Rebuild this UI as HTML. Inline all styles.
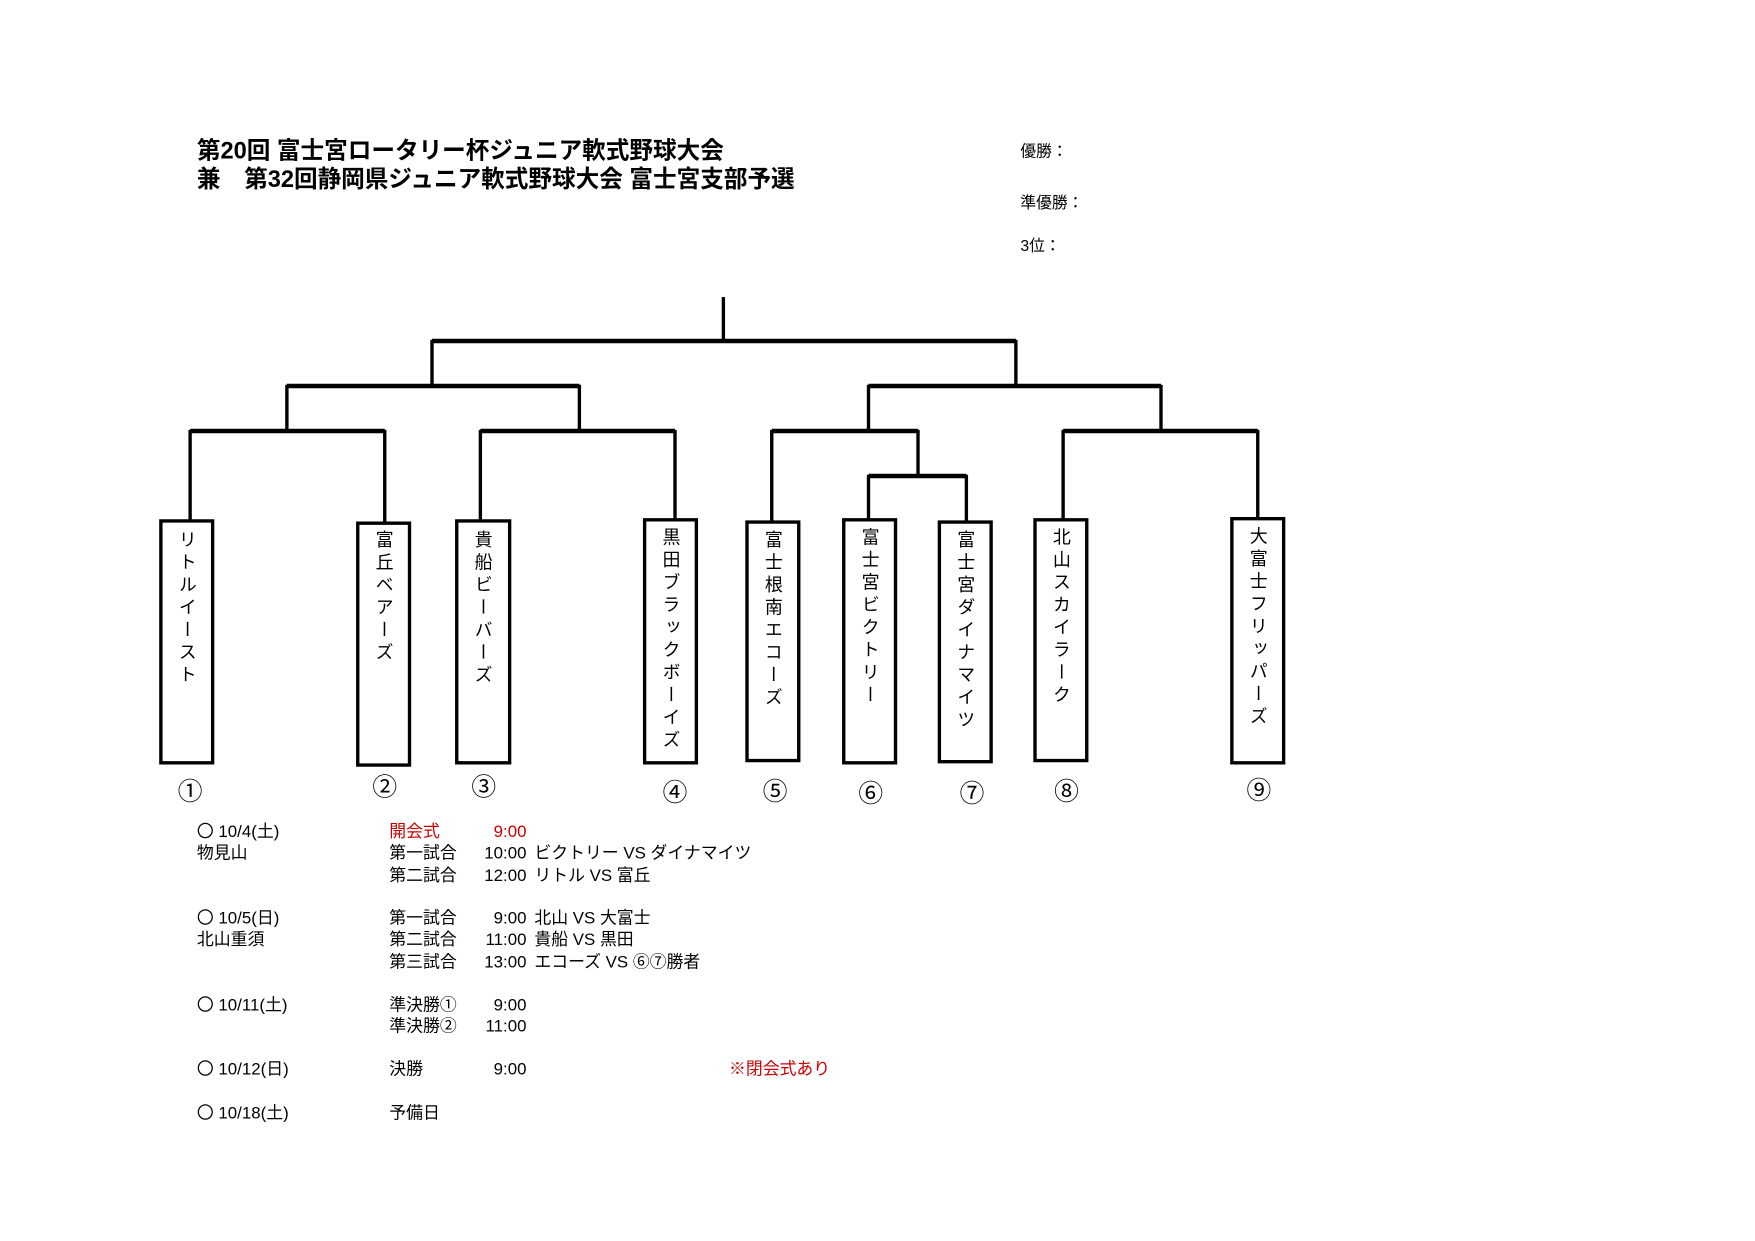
<!DOCTYPE html>
<html><head><meta charset="utf-8"><style>
html,body{margin:0;padding:0;background:#fff;}
svg{display:block;}
text{font-family:"Liberation Sans","Noto Sans CJK JP",sans-serif;fill:#000;}
.v{writing-mode:vertical-rl;font-size:16px;letter-spacing:4px;}
.n{font-size:22px;text-anchor:middle;}
.s{font-size:15px;}
.r{fill:#c00;}
</style></head><body>
<svg width="1755" height="1241" viewBox="0 0 1560 1103" xmlns="http://www.w3.org/2000/svg">
<text x="175" y="141" font-size="21" font-weight="bold">第20回 富士宮ロータリー杯ジュニア軟式野球大会</text>
<text x="175" y="166" font-size="21" font-weight="bold">兼　第32回静岡県ジュニア軟式野球大会 富士宮支部予選</text>
<text x="907" y="139" font-size="14">優勝：</text>
<text x="907" y="185" font-size="14">準優勝：</text>
<text x="907" y="223" font-size="14">3位：</text>
<g transform="translate(-1,-1)">
<g stroke="#000" fill="none" stroke-width="3">
<line x1="644" y1="265" x2="644" y2="303"/>
<line x1="385" y1="304" x2="904" y2="304" stroke-width="4"/>
<line x1="385" y1="303" x2="385" y2="343"/><line x1="904" y1="303" x2="904" y2="343"/>
<line x1="256" y1="344" x2="516" y2="344" stroke-width="4"/>
<line x1="773" y1="344" x2="1033" y2="344" stroke-width="4"/>
<line x1="256" y1="343" x2="256" y2="383"/><line x1="516" y1="343" x2="516" y2="383"/>
<line x1="773" y1="343" x2="773" y2="383"/><line x1="1033" y1="343" x2="1033" y2="383"/>
<line x1="170" y1="384" x2="343" y2="384" stroke-width="4"/>
<line x1="428" y1="384" x2="601" y2="384" stroke-width="4"/>
<line x1="687" y1="384" x2="817" y2="384" stroke-width="4"/>
<line x1="946" y1="384" x2="1119" y2="384" stroke-width="4"/>
<line x1="817" y1="383" x2="817" y2="423"/>
<line x1="773" y1="424" x2="860" y2="424" stroke-width="4"/>
<line x1="170" y1="383" x2="170" y2="463"/><line x1="343" y1="383" x2="343" y2="465"/>
<line x1="428" y1="383" x2="428" y2="463"/><line x1="601" y1="383" x2="601" y2="462"/>
<line x1="687" y1="383" x2="687" y2="464"/><line x1="773" y1="423" x2="773" y2="462"/>
<line x1="860" y1="423" x2="860" y2="464"/><line x1="946" y1="383" x2="946" y2="462"/>
<line x1="1119" y1="383" x2="1119" y2="461"/>
<rect x="144" y="464" width="46" height="215"/>
<rect x="319" y="466" width="46" height="215"/>
<rect x="407" y="464" width="47" height="215"/>
<rect x="574" y="463" width="46" height="216"/>
<rect x="665" y="465" width="46" height="212"/>
<rect x="751" y="463" width="46" height="216"/>
<rect x="836" y="465" width="46" height="213"/>
<rect x="921" y="463" width="46" height="214"/>
<rect x="1096" y="462" width="46" height="217"/>
</g>
<text class="v" x="167" y="472">リトルイースト</text>
<text class="v" x="342" y="472">富丘ベアーズ</text>
<text class="v" x="430" y="472">貴船ビーバーズ</text>
<text class="v" x="597" y="470">黒田ブラックボーイズ</text>
<text class="v" x="688" y="472">富士根南エコーズ</text>
<text class="v" x="774" y="470">富士宮ビクトリー</text>
<text class="v" x="859" y="472">富士宮ダイナマイツ</text>
<text class="v" x="944" y="470">北山スカイラーク</text>
<text class="v" x="1119" y="469">大富士フリッパーズ</text>
<text class="n" x="170" y="712">①</text>
<text class="n" x="343" y="708">②</text>
<text class="n" x="431" y="708">③</text>
<text class="n" x="601" y="713">④</text>
<text class="n" x="690" y="712">⑤</text>
<text class="n" x="775" y="714">⑥</text>
<text class="n" x="865" y="714">⑦</text>
<text class="n" x="949" y="712">⑧</text>
<text class="n" x="1120" y="711">⑨</text>
</g>
<g transform="translate(0,-3)">
<text class="s" x="175" y="747">〇 10/4(土)</text>
<text class="s" x="175" y="766">物見山</text>
<text class="s r" x="346" y="747">開会式</text>
<text class="s r" x="468" y="747" text-anchor="end">9:00</text>
<text class="s" x="346" y="766">第一試合</text><text class="s" x="468" y="766" text-anchor="end">10:00</text><text class="s" x="475" y="766">ビクトリー VS ダイナマイツ</text>
<text class="s" x="346" y="786">第二試合</text><text class="s" x="468" y="786" text-anchor="end">12:00</text><text class="s" x="475" y="786">リトル VS 富丘</text>
<text class="s" x="175" y="824">〇 10/5(日)</text>
<text class="s" x="175" y="843">北山重須</text>
<text class="s" x="346" y="824">第一試合</text><text class="s" x="468" y="824" text-anchor="end">9:00</text><text class="s" x="475" y="824">北山 VS 大富士</text>
<text class="s" x="346" y="843">第二試合</text><text class="s" x="468" y="843" text-anchor="end">11:00</text><text class="s" x="475" y="843">貴船 VS 黒田</text>
<text class="s" x="346" y="863">第三試合</text><text class="s" x="468" y="863" text-anchor="end">13:00</text><text class="s" x="475" y="863">エコーズ VS ⑥⑦勝者</text>
<text class="s" x="175" y="901">〇 10/11(土)</text>
<text class="s" x="346" y="901">準決勝①</text><text class="s" x="468" y="901" text-anchor="end">9:00</text>
<text class="s" x="346" y="920">準決勝②</text><text class="s" x="468" y="920" text-anchor="end">11:00</text>
<text class="s" x="175" y="958">〇 10/12(日)</text>
<text class="s" x="346" y="958">決勝</text><text class="s" x="468" y="958" text-anchor="end">9:00</text>
<text class="s r" x="648" y="958">※閉会式あり</text>
<text class="s" x="175" y="997">〇 10/18(土)</text>
<text class="s" x="346" y="997">予備日</text>
</g>
</svg>
</body></html>
